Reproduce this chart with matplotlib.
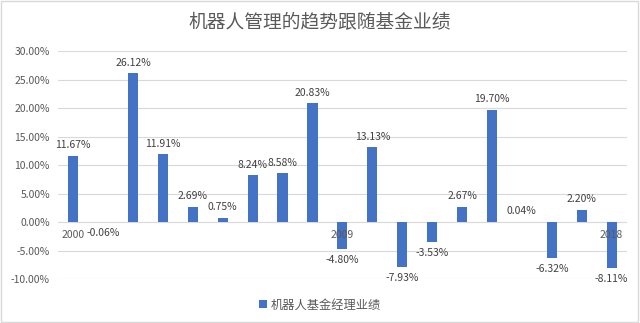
import matplotlib
matplotlib.use('Agg')
import matplotlib.pyplot as plt
from matplotlib.patches import Rectangle

plt.rcParams['font.family'] = ['Noto Sans CJK SC', 'DejaVu Sans']

# data
years = list(range(2000, 2019))
returns = [11.67, -0.06, 26.12, 11.91, 2.69, 0.75, 8.24, 8.58, 20.83, -4.80,
           13.13, -7.93, -3.53, 2.67, 19.70, 0.04, -6.32, 2.20, -8.11]
shown_years = [2000, 2009, 2018]
title = '机器人管理的趋势跟随基金业绩'
series_name = '机器人基金经理业绩'

bar_color = '#4472C4'
text_color = '#595959'
grid_color = '#D9D9D9'

fig = plt.figure(figsize=(6.4, 3.23), dpi=100)
ax = fig.add_axes([0.091, 0.136, 0.888, 0.706])

x = list(range(len(years)))
bars = ax.bar(x, returns, width=0.34, color=bar_color, label=series_name, zorder=3)

ax.set_ylim(-10, 30)
ax.set_xlim(-0.5, len(years) - 0.5)
ax.set_yticks(range(-10, 31, 5))
ax.set_yticklabels(['%.2f%%' % v for v in range(-10, 31, 5)], fontsize=7.5, color=text_color)
ax.tick_params(axis='y', length=0, pad=6)
ax.set_xticks([])
ax.grid(axis='y', color=grid_color, linewidth=0.8, zorder=0)
for s in ax.spines.values():
    s.set_visible(False)

# data labels
for xi, v in zip(x, returns):
    if v >= 0:
        ax.annotate('%.2f%%' % v, (xi, v), xytext=(0, 4), textcoords='offset points',
                    ha='center', va='bottom', fontsize=7.5, color='#404040')
    else:
        ax.annotate('%.2f%%' % v, (xi, v), xytext=(0, -4), textcoords='offset points',
                    ha='center', va='top', fontsize=7.5, color='#404040')

# category labels sit on the zero line
for yr in shown_years:
    i = years.index(yr)
    ax.annotate(str(yr), (i, 0), xytext=(0, -6), textcoords='offset points',
                ha='center', va='top', fontsize=7.5, color=text_color)

fig.text(0.5, 0.929, title, ha='center', va='center', fontsize=13.5, color=text_color)

leg = fig.legend(handles=[bars], labels=[series_name], loc='center', bbox_to_anchor=(0.5, 0.056),
                 frameon=False, fontsize=8.8, handlelength=0.6, handleheight=0.6, handletextpad=0.3)
for t in leg.get_texts():
    t.set_color(text_color)

fig.patches.append(Rectangle((0.002, 0.003), 0.995, 0.993, transform=fig.transFigure,
                             fill=False, edgecolor='#D9D9D9', linewidth=1))

fig.savefig('out.png', dpi=100)
